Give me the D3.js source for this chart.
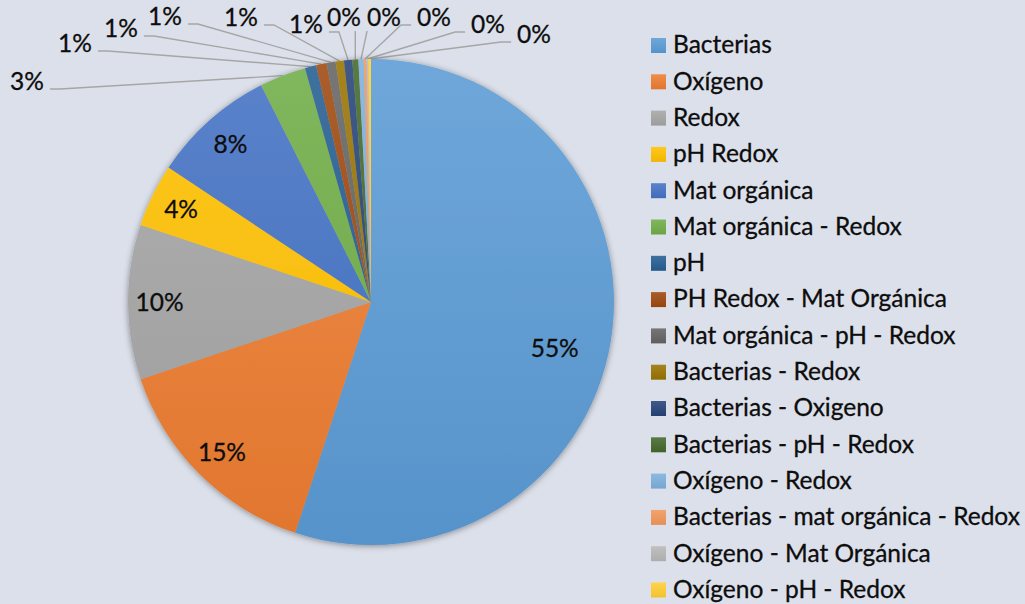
<!DOCTYPE html>
<html>
<head>
<meta charset="utf-8">
<script src="https://cdn.jsdelivr.net/npm/d3@7"></script>
<style>
    body { margin: 0; background: #dce0ea; }
    svg { display: block; font-family: Lato, "Open Sans", sans-serif; }
    svg text { stroke: #0d0d0d; stroke-width: 0.3px; }
</style>
</head>
<body>
<div id="chart"></div>
<script>
"use strict";
// slices, clockwise from 12 o'clock (share of total, %)
const categories = [
    "Bacterias", "Oxígeno", "Redox", "pH Redox", "Mat orgánica",
    "Mat orgánica - Redox", "pH", "PH Redox - Mat Orgánica",
    "Mat orgánica - pH - Redox", "Bacterias - Redox", "Bacterias - Oxigeno",
    "Bacterias - pH - Redox", "Oxígeno - Redox", "Bacterias - mat orgánica - Redox",
    "Oxígeno - Mat Orgánica", "Oxígeno - pH - Redox"
]
const shares = [55.1, 14.8, 10.3, 4.2, 8.2, 3.1, 0.75, 0.7, 0.6, 0.55, 0.55, 0.4, 0.35, 0.18, 0.12, 0.18]
const colors = [
    "#5b9bd5", "#ed7d31", "#a5a5a5", "#ffc000", "#4472c4", "#70ad47",
    "#255e91", "#9e480e", "#636363", "#997300", "#264478", "#43682b",
    "#7cafdd", "#f1975a", "#b7b7b7", "#ffcd33"
]
// where the labels of the thin slices sit (text centre x, baseline y)
const outsideLabels = [[27, 90], [75, 52], [121, 37], [165, 25], [241, 26], [306, 33],
    [344, 26], [384, 26], [434, 26], [488, 33], [534, 43]]

;(function () {
    const measurements = { width: 1025, height: 604 }
    const center = { x: 371, y: 302 }
    const radius = 243
    const textColor = "#0d0d0d"

    const svg = d3.select("#chart").append("svg")
        .attr("width", measurements.width)
        .attr("height", measurements.height)

    const defs = svg.append("defs")
    const shadow = defs.append("filter").attr("id", "shadow")
        .attr("x", "-10%").attr("y", "-10%").attr("width", "120%").attr("height", "120%")
    shadow.append("feDropShadow")
        .attr("dx", 0).attr("dy", 1).attr("stdDeviation", 3)
        .attr("flood-color", "#000").attr("flood-opacity", 0.4)

    // top-light / bottom-dark fill like the office theme
    function addGradient(id, color, userSpace) {
        const g = defs.append("linearGradient").attr("id", id)
            .attr("x1", 0).attr("x2", 0)
        if (userSpace) {
            g.attr("gradientUnits", "userSpaceOnUse").attr("y1", -radius).attr("y2", radius)
        } else {
            g.attr("y1", 0).attr("y2", 1)
        }
        g.append("stop").attr("offset", "0%").attr("stop-color", d3.interpolateRgb(color, "#fff")(0.12))
        g.append("stop").attr("offset", "100%").attr("stop-color", d3.color(color).darker(0.15))
    }
    colors.forEach((c, i) => {
        addGradient("pie" + i, c, true)
        addGradient("leg" + i, c, false)
    })

    // fit the fallback font to the width the reference text takes
    function fitFont(sample, targetWidth) {
        const t = svg.append("text").style("font-size", "100px").text(sample)
        const w = t.node().getComputedTextLength()
        t.remove()
        return 100 * targetWidth / w
    }
    const fontSize = fitFont("Bacterias - mat orgánica - Redox", 347)

    const total = d3.sum(shares)
    const fmt = d3.format(".0%")
    const pie = d3.pie().sort(null).value(d => d)
    const arcs = pie(shares)

    const arc = d3.arc().innerRadius(0).outerRadius(radius)
    const edgeArc = d3.arc().innerRadius(radius).outerRadius(radius)
    const labelArc = d3.arc().innerRadius(radius * 0.87).outerRadius(radius * 0.87)

    const pieGroup = svg.append("g")
        .attr("transform", "translate(" + center.x + "," + center.y + ")")

    pieGroup.append("g")
        .attr("filter", "url(#shadow)")
        .selectAll("path")
        .data(arcs)
        .enter()
        .append("path")
        .attr("d", arc)
        .attr("fill", d => "url(#pie" + d.index + ")")

    // labels inside the big slices
    const inside = arcs.filter(d => d.data >= 4)
    pieGroup.selectAll(".inlabel")
        .data(inside)
        .enter()
        .append("text")
        .attr("class", "inlabel")
        .attr("transform", function (d) {
            let p = labelArc.centroid(d)
            if (d.index === 0) {
                const a = (d.startAngle + d.endAngle) / 2 + 0.09
                p = [Math.sin(a) * radius * 0.78, -Math.cos(a) * radius * 0.78]
            }
            return "translate(" + p[0] + "," + p[1] + ")"
        })
        .attr("dy", "0.35em")
        .style("text-anchor", "middle")
        .style("font-size", fontSize + "px")
        .style("fill", textColor)
        .text(d => fmt(d.data / total))

    // thin slices get labels outside with leader lines
    const outside = arcs.filter(d => d.data < 4)
    outside.forEach((d, k) => {
        const lx = outsideLabels[k][0]
        const base = outsideLabels[k][1]
        const label = svg.append("text")
            .attr("x", lx)
            .attr("y", base)
            .style("text-anchor", "middle")
            .style("font-size", fontSize + "px")
            .style("fill", textColor)
            .text(fmt(d.data / total))
        const hw = label.node().getComputedTextLength() / 2
        const e = edgeArc.centroid(d)
        const px = center.x + e[0]
        const py = center.y + e[1]
        let pts
        if (lx + hw + 6 < px - 6) {
            pts = [[lx + hw + 6, base - 1], [lx + hw + 16, base - 1], [px, py]]
        } else if (lx - hw - 6 > px + 6) {
            pts = [[lx - hw - 6, base - 1], [lx - hw - 16, base - 1], [px, py]]
        } else {
            const sx = Math.max(lx - hw, Math.min(lx + hw, px))
            pts = [[sx, base + 5], [px, py]]
        }
        svg.insert("path", "g")
            .attr("d", d3.line()(pts))
            .attr("fill", "none")
            .attr("stroke", "#a6a6a6")
            .attr("stroke-width", 1.4)
    })

    // legend
    const legend = svg.append("g")
    categories.forEach((name, i) => {
        legend.append("rect")
            .attr("x", 651)
            .attr("y", 38 + i * 36.3)
            .attr("width", 15)
            .attr("height", 15)
            .attr("fill", "url(#leg" + i + ")")
        legend.append("text")
            .attr("x", 673)
            .attr("y", 53.3 + i * 36.3)
            .style("font-size", fontSize + "px")
            .style("fill", textColor)
            .text(name)
    })
})()
</script>
</body>
</html>
